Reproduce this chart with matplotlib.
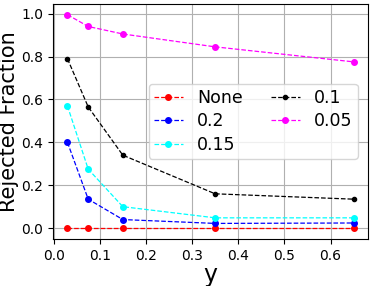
import matplotlib
matplotlib.use("Agg")
import matplotlib.pyplot as plt

# valores de y
y_vals = [0.03, 0.075, 0.15, 0.35, 0.65]

# fração rejeitada por limiar
labels = ["None", "0.2", "0.15", "0.1", "0.05"]
cores = ["red", "blue", "cyan", "black", "magenta"]
rej_none = [0.0, 0.0, 0.0, 0.0, 0.0]
rej_02 = [0.40, 0.135, 0.04, 0.022, 0.024]
rej_015 = [0.57, 0.275, 0.10, 0.048, 0.048]
rej_01 = [0.79, 0.565, 0.34, 0.16, 0.135]
rej_005 = [0.995, 0.94, 0.905, 0.845, 0.775]
series = [rej_none, rej_02, rej_015, rej_01, rej_005]
tam_marcador = [4, 4, 4, 3, 4]

fig, ax = plt.subplots(figsize=(3.74, 2.86), dpi=100)
for lab, cor, vals, ms in zip(labels, cores, series, tam_marcador):
    ax.plot(y_vals, vals, "--o", color=cor, label=lab, linewidth=0.9, markersize=ms)

ax.set_xlabel("y", fontsize=17, labelpad=0)
ax.set_ylabel("Rejected Fraction", fontsize=15, labelpad=2)
ax.tick_params(labelsize=10)
ax.grid(True, color="#b0b0b0", linewidth=0.8)
ax.legend(ncol=2, fontsize=12.5, loc="center right", handlelength=1.7,
          columnspacing=1.6, labelspacing=0.3, borderpad=0.3,
          bbox_to_anchor=(0.995, 0.5))

fig.subplots_adjust(left=0.142, right=0.984, top=0.986, bottom=0.165)
fig.savefig("out.png", dpi=100)
